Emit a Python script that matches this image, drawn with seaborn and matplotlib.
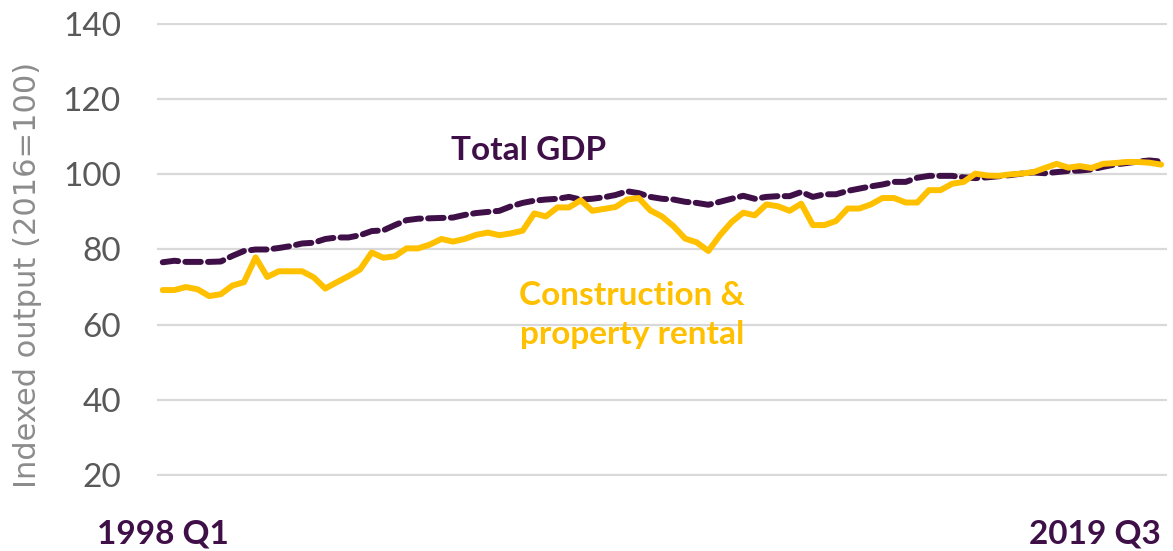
"""
Indexed output: total GDP vs construction & property rental, 1998 Q1 - 2019 Q3.
"""

import pandas as pd
import matplotlib
matplotlib.use("Agg")
import matplotlib.pyplot as plt
import seaborn as sns

# Quarter labels (1998 Q1 .. 2019 Q3)
QUARTERS = [f"{y} Q{q}" for y in range(1998, 2020) for q in range(1, 5)][:87]

# Total GDP, index 2016=100
GDP = [
    76.6, 77.0, 76.7, 76.7, 76.7, 76.8, 78.3, 79.6, 80.0, 80.0,
    80.4, 80.9, 81.6, 81.8, 82.8, 83.2, 83.2, 83.8, 84.9, 85.1,
    86.5, 87.8, 88.2, 88.3, 88.4, 88.5, 89.2, 89.7, 90.0, 90.3,
    91.5, 92.4, 93.0, 93.3, 93.5, 94.0, 93.3, 93.5, 93.9, 94.5,
    95.5, 95.0, 94.0, 93.5, 93.3, 92.7, 92.4, 91.9, 92.7, 93.5,
    94.3, 93.5, 94.0, 94.2, 94.2, 95.3, 94.0, 94.7, 94.7, 95.6,
    96.2, 96.8, 97.3, 98.0, 98.0, 99.1, 99.6, 99.6, 99.6, 99.2,
    99.0, 99.2, 99.5, 99.8, 100.2, 100.5, 100.3, 100.6, 100.9, 101.0,
    101.3, 102.0, 102.6, 103.0, 103.4, 103.7, 103.4,
]

# Construction & property rental, index 2016=100
CONSTRUCTION = [
    69.2, 69.2, 70.0, 69.4, 67.6, 68.1, 70.4, 71.3, 77.9, 72.7,
    74.2, 74.2, 74.2, 72.6, 69.6, 71.3, 72.9, 74.7, 79.2, 77.8,
    78.2, 80.3, 80.3, 81.3, 82.8, 82.1, 82.8, 83.9, 84.5, 83.8,
    84.3, 85.0, 89.6, 88.8, 91.2, 91.2, 93.1, 90.3, 90.8, 91.3,
    93.3, 93.7, 90.4, 88.8, 86.2, 82.9, 81.9, 79.6, 83.8, 87.3,
    89.8, 89.1, 92.0, 91.5, 90.3, 92.2, 86.5, 86.5, 87.6, 90.9,
    90.9, 92.0, 93.7, 93.7, 92.5, 92.5, 95.8, 95.8, 97.5, 98.0,
    100.2, 99.7, 99.6, 100.0, 100.2, 100.6, 101.7, 102.8, 101.8, 102.2,
    101.7, 102.8, 103.0, 103.3, 103.3, 103.1, 102.6,
]

Y_TICKS = [20, 40, 60, 80, 100, 120, 140]

PURPLE = "#3f1048"
GOLD = "#ffc000"
GREY = "#595959"

df = pd.DataFrame({
    "idx": range(len(QUARTERS)),
    "quarter": QUARTERS,
    "gdp": GDP,
    "construction": CONSTRUCTION,
})

sns.set_theme(style="white")
plt.rcParams["font.family"] = ["Lato", "DejaVu Sans"]

fig = plt.figure(figsize=(11.73, 5.51), dpi=100)
ax = fig.add_axes([0.1338, 0.1361, 0.861, 0.8222])

sns.lineplot(data=df, x="idx", y="gdp", ax=ax, color=PURPLE, linewidth=4.3,
             linestyle=(0, (2.6, 1.2)), dash_capstyle="round")
sns.lineplot(data=df, x="idx", y="construction", ax=ax, color=GOLD,
             linewidth=4.3, solid_capstyle="round", solid_joinstyle="round")

ax.set_xlim(-0.5, len(QUARTERS) - 0.5)
ax.set_ylim(19.7, 140.3)
ax.set_yticks(Y_TICKS)
ax.set_yticklabels([str(t) for t in Y_TICKS], fontsize=24, color=GREY)
ax.yaxis.grid(True, color="#d9d9d9", linewidth=1.6)
ax.set_axisbelow(True)
for s in ax.spines.values():
    s.set_visible(False)
ax.tick_params(axis="both", length=0)
ax.tick_params(axis="y", pad=26)

ax.set_xticks([0, len(QUARTERS) - 1])
ax.set_xticklabels([QUARTERS[0], QUARTERS[-1]], fontsize=24,
                   fontweight="bold", color=PURPLE)
ax.get_xticklabels()[1].set_horizontalalignment("right")
ax.tick_params(axis="x", pad=31)

ax.set_xlabel("")
ax.set_ylabel("Indexed output (2016=100)", fontsize=22, color="#8c8c8c",
              family="DejaVu Sans")
ax.yaxis.set_label_coords(-0.114, 0.444)

ax.text(31.5, 106.4, "Total GDP", fontsize=24, fontweight="bold",
        color=PURPLE, ha="center", va="center")
ax.text(40.4, 62.6, "Construction &\nproperty rental", fontsize=24,
        fontweight="bold", color=GOLD, ha="center", va="center",
        linespacing=1.42)

fig.savefig("out.png", dpi=100)
